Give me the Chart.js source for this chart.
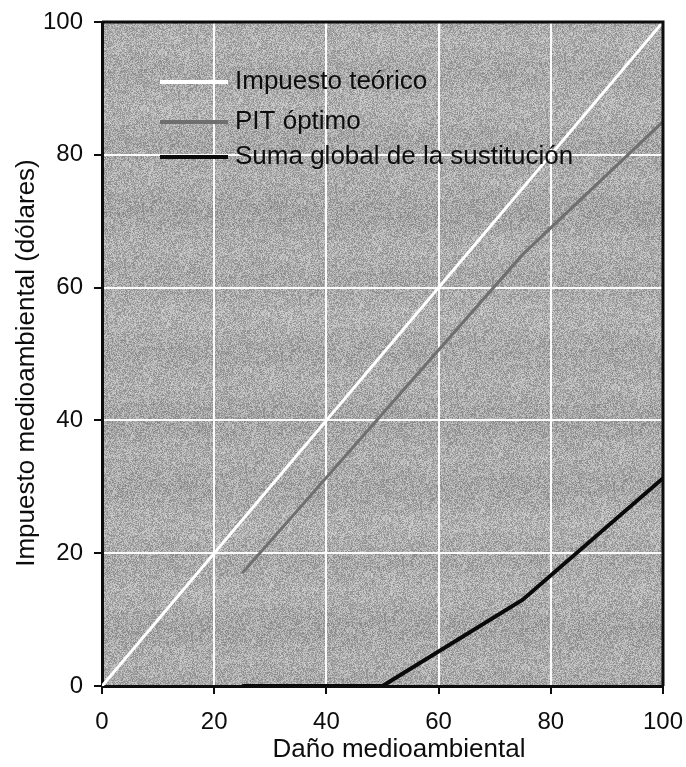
<!DOCTYPE html>
<html lang="es">
<head>
  <meta charset="UTF-8">
  <title>Impuesto medioambiental</title>
  <script src="https://cdn.jsdelivr.net/npm/chart.js"></script>
  <style>
    body { margin: 0; background: #fff; }
    #wrap { width: 686px; height: 767px; }
  </style>
</head>
<body>
  <div id="wrap">
    <canvas id="chart" width="686" height="767"></canvas>
  </div>

  <script>
    // Series (x = daño medioambiental, y = impuesto en dólares)
    const seriesNames = ['Impuesto teórico', 'PIT óptimo', 'Suma global de la sustitución'];
    const teoricoX = [0, 100];
    const teoricoY = [0, 100];
    const pitX = [25, 75, 100];
    const pitY = [17, 65, 85];
    const sumaX = [25, 50, 75, 100];
    const sumaY = [0, 0, 13, 31.3];
    const xTicks = [0, 20, 40, 60, 80, 100];
    const yTicks = [0, 20, 40, 60, 80, 100];
    const xTitle = 'Daño medioambiental';
    const yTitle = 'Impuesto medioambiental (dólares)';

    const FONT = '"Liberation Sans", Arial, sans-serif';
    const INK = '#0d0d0d';
    const toPoints = (xs, ys) => xs.map((x, i) => ({ x: x, y: ys[i] }));

    // grainy gray fill for the plot area
    let noiseCanvas = null;
    function getNoise(w, h) {
      if (noiseCanvas && noiseCanvas.width === w && noiseCanvas.height === h) return noiseCanvas;
      noiseCanvas = document.createElement('canvas');
      noiseCanvas.width = w;
      noiseCanvas.height = h;
      const g = noiseCanvas.getContext('2d');
      const img = g.createImageData(w, h);
      let s = 20240607;
      for (let y = 0; y < h; y++) {
        const band = 4 * Math.sin(y / 11.0) + 2 * Math.sin(y / 37.0);
        for (let x = 0; x < w; x++) {
          s = (s * 1103515245 + 12345) & 0x7fffffff;
          const n = ((s >> 8) % 70) - 35;
          let v = Math.round(171 + n + band);
          v = Math.max(95, Math.min(230, v));
          const k = (y * w + x) * 4;
          img.data[k] = v;
          img.data[k + 1] = v;
          img.data[k + 2] = v;
          img.data[k + 3] = 255;
        }
      }
      g.putImageData(img, 0, 0);
      return noiseCanvas;
    }

    const plotBackground = {
      id: 'plotBackground',
      beforeDraw(chart) {
        const a = chart.chartArea;
        const ctx = chart.ctx;
        ctx.save();
        ctx.drawImage(getNoise(Math.round(a.right - a.left), Math.round(a.bottom - a.top)), a.left, a.top);
        ctx.restore();
      }
    };

    // top/right frame, axis titles and the legend inside the plot
    const frameAndLegend = {
      id: 'frameAndLegend',
      afterDatasetsDraw(chart) {
        const a = chart.chartArea;
        const ctx = chart.ctx;
        ctx.save();
        ctx.strokeStyle = INK;
        ctx.lineWidth = 3;
        ctx.beginPath();
        ctx.moveTo(a.left, a.top);
        ctx.lineTo(a.right, a.top);
        ctx.lineTo(a.right, a.bottom);
        ctx.stroke();

        const x0 = a.left + 58, x1 = a.left + 126;
        const rows = [a.top + 60, a.top + 100, a.top + 135];
        ctx.font = '26px ' + FONT;
        ctx.textBaseline = 'middle';
        chart.data.datasets.forEach((ds, i) => {
          ctx.strokeStyle = ds.borderColor;
          ctx.lineWidth = 4;
          ctx.beginPath();
          ctx.moveTo(x0, rows[i]);
          ctx.lineTo(x1, rows[i]);
          ctx.stroke();
          ctx.fillStyle = INK;
          ctx.fillText(ds.label, x1 + 7, rows[i]);
        });

        // axis titles
        ctx.fillStyle = INK;
        ctx.textAlign = 'center';
        ctx.font = '26px ' + FONT;
        ctx.fillText(xTitle, a.left + 297, a.bottom + 64);
        ctx.translate(27, a.top + 341);
        ctx.rotate(-Math.PI / 2);
        ctx.fillText(yTitle, 0, 0);
        ctx.restore();
      }
    };

    const axisBase = {
      type: 'linear',
      min: 0,
      max: 100,
      grid: { color: '#fafafa', lineWidth: 2, tickColor: INK, tickLength: 8, tickWidth: 2 },
      border: { display: true, color: INK, width: 3 },
    };

    new Chart(document.getElementById('chart'), {
      type: 'line',
      data: {
        datasets: [
          { label: seriesNames[0], data: toPoints(teoricoX, teoricoY), borderColor: '#ffffff', borderWidth: 3 },
          { label: seriesNames[1], data: toPoints(pitX, pitY), borderColor: '#6f6f6f', borderWidth: 3 },
          { label: seriesNames[2], data: toPoints(sumaX, sumaY), borderColor: '#0a0a0a', borderWidth: 4 },
        ]
      },
      options: {
        responsive: false,
        animation: false,
        events: [],
        layout: { padding: { top: 22, right: 23, left: 0, bottom: 0 } },
        elements: { point: { radius: 0 }, line: { tension: 0, borderCapStyle: 'butt' } },
        plugins: { legend: { display: false }, tooltip: { enabled: false } },
        scales: {
          x: Object.assign({}, axisBase, {
            afterBuildTicks: s => { s.ticks = xTicks.map(v => ({ value: v })); },
            afterFit: s => { s.height = 81; s.paddingLeft = 0; s.paddingRight = 0; },
            ticks: { color: INK, font: { family: FONT, size: 24 }, padding: 14, maxRotation: 0 },
          }),
          y: Object.assign({}, axisBase, {
            afterBuildTicks: s => { s.ticks = yTicks.map(v => ({ value: v })); },
            afterFit: s => { s.width = 102; s.paddingTop = 0; s.paddingBottom = 0; },
            ticks: { color: INK, font: { family: FONT, size: 24 }, padding: 11 },
          }),
        }
      },
      plugins: [plotBackground, frameAndLegend]
    });
  </script>
</body>
</html>
